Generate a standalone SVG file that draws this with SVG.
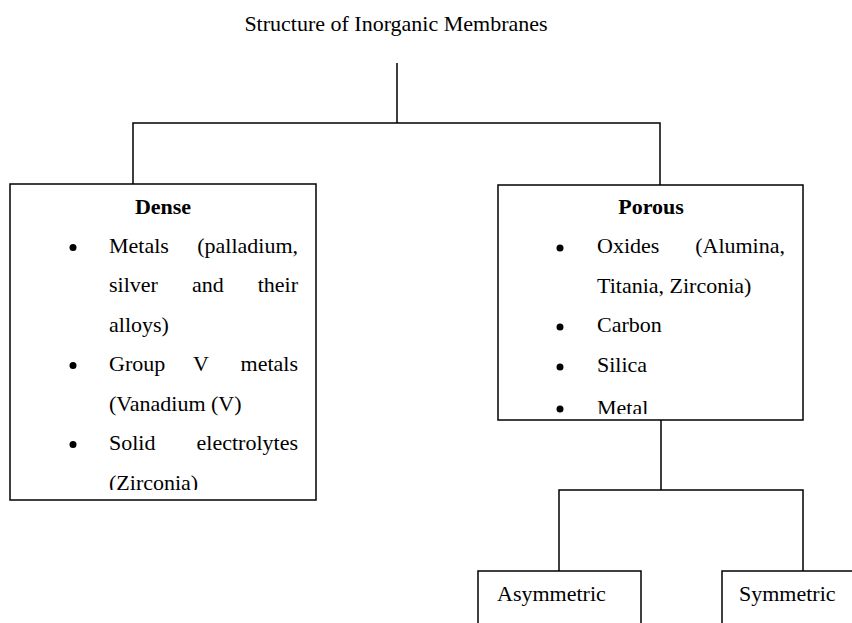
<svg xmlns="http://www.w3.org/2000/svg" width="852" height="623" viewBox="0 0 852 623">
<style>
text{font-family:"Liberation Serif","Times New Roman",serif;font-size:22px;fill:#000}
.b{font-weight:bold}
.box{fill:#fff;stroke:#000;stroke-width:1.5}
.ln{fill:none;stroke:#000;stroke-width:1.5}
.dot{fill:#000}
</style>
<defs>
<clipPath id="cd"><rect x="10" y="184" width="306" height="306"/></clipPath>
<clipPath id="cp"><rect x="498" y="185" width="305" height="229"/></clipPath>
</defs>
<rect width="852" height="623" fill="#fff"/>
<g id="connectors">
<path class="ln" d="M397 63V123M133 184V123H660V185"/>
<path class="ln" d="M661 420V490M559 571V490H803V571"/>
</g>
<g id="title"><text x="396" y="31" text-anchor="middle">Structure of Inorganic Membranes</text></g>
<g id="dense">
<rect class="box" x="10" y="184" width="306" height="316"/>
<text class="b" x="163" y="214" text-anchor="middle">Dense</text>
<g clip-path="url(#cd)">
<circle class="dot" cx="73" cy="247.5" r="3.5"/>
<circle class="dot" cx="73" cy="365.5" r="3.5"/>
<circle class="dot" cx="73" cy="444.5" r="3.5"/>
<text x="109" y="253">Metals</text><text x="298" y="253" text-anchor="end">(palladium,</text>
<text x="109" y="292">silver</text><text x="192" y="292">and</text><text x="298" y="292" text-anchor="end">their</text>
<text x="109" y="332">alloys)</text>
<text x="109" y="371">Group</text><text x="193" y="371">V</text><text x="298" y="371" text-anchor="end">metals</text>
<text x="109" y="411">(Vanadium (V)</text>
<text x="109" y="450">Solid</text><text x="298" y="450" text-anchor="end">electrolytes</text>
<text x="109" y="490">(Zirconia)</text>
</g>
</g>
<g id="porous">
<rect class="box" x="498" y="185" width="305" height="235"/>
<text class="b" x="651" y="214" text-anchor="middle">Porous</text>
<g clip-path="url(#cp)">
<circle class="dot" cx="560" cy="248" r="3.5"/>
<circle class="dot" cx="560" cy="327" r="3.5"/>
<circle class="dot" cx="560" cy="367" r="3.5"/>
<circle class="dot" cx="560" cy="409" r="3.5"/>
<text x="597" y="253">Oxides</text><text x="785" y="253" text-anchor="end">(Alumina,</text>
<text x="597" y="293">Titania, Zirconia)</text>
<text x="597" y="332">Carbon</text>
<text x="597" y="372">Silica</text>
<text x="597" y="415">Metal</text>
</g>
</g>
<g id="asymmetric">
<rect class="box" x="478" y="571" width="163" height="60"/>
<text x="497" y="601">Asymmetric</text>
</g>
<g id="symmetric">
<rect class="box" x="722" y="571" width="140" height="60"/>
<text x="739" y="601">Symmetric</text>
</g>
</svg>
